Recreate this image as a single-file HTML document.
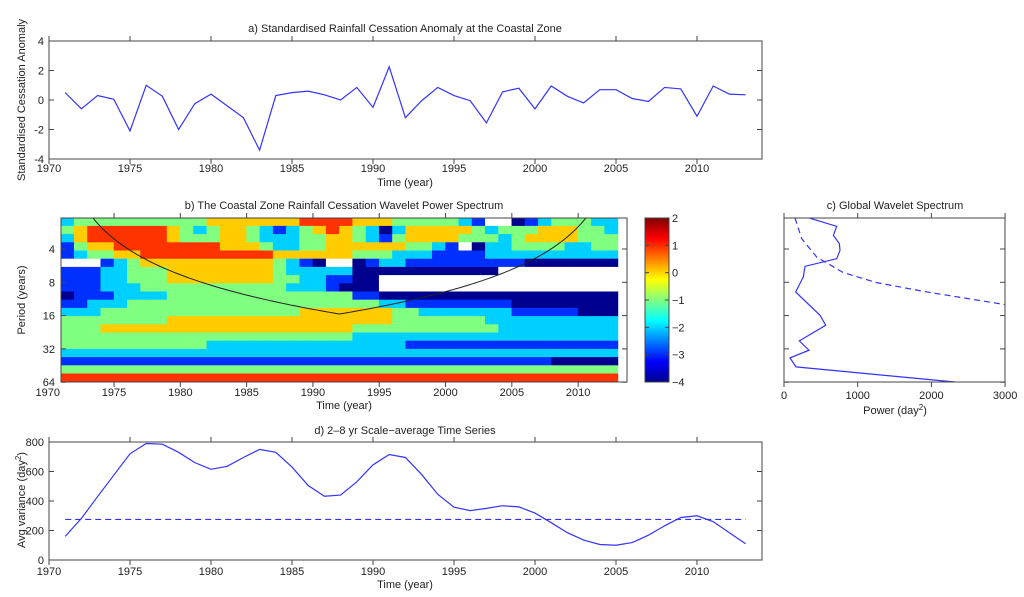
<!DOCTYPE html>
<html><head><meta charset="utf-8"><style>
html,body{margin:0;padding:0;background:#fff;}
svg{display:block;font-family:"Liberation Sans",sans-serif;}
text{fill:#222;font-size:11px;}
</style></head><body>
<svg id="fig" width="1024" height="597" viewBox="0 0 1024 597" xmlns="http://www.w3.org/2000/svg">
<defs>
<linearGradient id="jet" x1="0" y1="1" x2="0" y2="0">
<stop offset="0" stop-color="#00008f"/><stop offset="0.125" stop-color="#0000ff"/>
<stop offset="0.375" stop-color="#00ffff"/><stop offset="0.5" stop-color="#80ff80"/>
<stop offset="0.625" stop-color="#ffff00"/><stop offset="0.875" stop-color="#ff0000"/>
<stop offset="1" stop-color="#800000"/></linearGradient>
<clipPath id="clipB"><rect x="61" y="218" width="566" height="164"/></clipPath>
<clipPath id="clipC"><rect x="784" y="218" width="221" height="164"/></clipPath>
</defs>
<g id="root"></g>
</svg>
<script>
// ---- Panel a data ----
const yearsA = [1971,1972,1973,1974,1975,1976,1977,1978,1979,1980,1981,1982,1983,1984,1985,1986,1987,1988,1989,1990,1991,1992,1993,1994,1995,1996,1997,1998,1999,2000,2001,2002,2003,2004,2005,2006,2007,2008,2009,2010,2011,2012,2013];
const anomaly = [0.5,-0.6,0.3,0.05,-2.1,1.0,0.25,-2.0,-0.25,0.4,-0.4,-1.2,-3.4,0.3,0.5,0.6,0.35,0.0,0.85,-0.5,2.25,-1.2,-0.05,0.85,0.3,-0.05,-1.55,0.55,0.8,-0.6,0.95,0.25,-0.2,0.7,0.7,0.1,-0.1,0.85,0.75,-1.1,0.95,0.4,0.35];
const ticksA = [-4,-2,0,2,4];
const yearTicks = [1970,1975,1980,1985,1990,1995,2000,2005,2010];
// ---- Panel d data ----
const scaleAvg = [160,282,430,575,720,790,785,730,660,615,635,695,750,730,630,505,432,440,530,645,715,695,580,445,358,335,350,368,360,318,253,185,135,105,100,118,168,232,288,300,260,185,110];
const signifD = [275];
const ticksD = [0,200,400,600,800];
// ---- Panel b data (band index per row; rows from period 2 down to 64; cols 1971..2012) ----
const bandColors = ["#ffffff","#00008f","#0030ff","#00d0ff","#80ff80","#ffcc00","#ff3300","#800000"];
const powerRows = [
"344444444445555555666655544444320012344433",
"456666665434554323456543135555543444555443",
"356666665444554333445543245555444345555444",
"245566666666555433445555554432013344443344",
"234455666666666655555544433322223333333333",
"000234555555555543210012332222222221111111",
"222334445555555543333311111111111000000000",
"222334445555555544332211000000000000000000",
"222333444444444443332111000000000000000000",
"122233334444444444444422111111111111111111",
"223334444444444444444444332222222211111111",
"333444444444444444555555544333333322222111",
"444444445555555555555555544444443333333333",
"444555555555555555555544444444444333333333",
"444444444444444444444433333333333333333333",
"444444444443333333333333332222222222222222",
"333333333333333333333333333333333333333333",
"222222222222222222222222222222222222211111",
"444444444444444444444444444444444444444444",
"666666666666666666666666666666666666666666"];
const periodTicks = [4,8,16,32,64];
const cbTicks = [2,1,0,-1,-2,-3,-4];
// ---- Panel c data ----
const gwsLog2 = [1.07,1.32,1.59,1.84,2.04,2.29,2.52,2.84,3.29,3.99,4.29,4.76,5.04,5.27,5.54,6.01];
const gwsPower = [344,715,670,751,760,715,285,262,158,489,566,208,339,81,163,2389];
const sigLog2 = [1.07,1.69,2.24,2.71,3.01,3.29,3.67,4.0];
const sigPower = [149,240,443,805,1258,1937,3000,3800];
const powerTicks = [0,1000,2000,3000];

const NS="http://www.w3.org/2000/svg";
const root=document.getElementById('root');
function mk(tag,attrs,parent){const e=document.createElementNS(NS,tag);for(const k in attrs)e.setAttribute(k,attrs[k]);(parent||root).appendChild(e);return e;}
function txt(s,x,y,anchor,parent,rot){const t=mk('text',{x:x,y:y,'text-anchor':anchor||'middle'},parent);if(rot)t.setAttribute('transform','rotate(-90 '+x+' '+y+')');t.textContent=s;return t;}

const xA=yr=>49+(yr-1970)*16.2;
const yA=v=>100-v*14.75;
const yD=v=>560-v*118/800;
const xB=yr=>61+(yr-1971)*13.26;
const yB=l=>249+(l-2)*33.3;
const xC=p=>784+p*0.0737;

function box(x0,y0,x1,y1,name){const r=mk('rect',{x:x0,y:y0,width:x1-x0,height:y1-y0,fill:'none',stroke:'#444','stroke-width':1});}
function vtick(x,y0,y1){mk('line',{x1:x,x2:x,y1:y0,y2:y0+5,stroke:'#444'});mk('line',{x1:x,x2:x,y1:y1,y2:y1-5,stroke:'#444'});}
function htick(y,x0,x1){mk('line',{x1:x0,x2:x0+5,y1:y,y2:y,stroke:'#444'});mk('line',{x1:x1,x2:x1-5,y1:y,y2:y,stroke:'#444'});}

// ===== Panel a =====
let g=mk('g',{});
let t=txt('a) Standardised Rainfall Cessation Anomaly at the Coastal Zone',405,32,'middle',g);
ticksA.forEach(v=>{htick(yA(v),49,762);const l=txt(String(v),44,yA(v)+4,'end',g);});
yearTicks.forEach(yr=>{vtick(xA(yr),159,41);const l=txt(String(yr),xA(yr),172,'middle',g);});
let pa=mk('polyline',{points:yearsA.map((yr,i)=>xA(yr)+','+yA(anomaly[i])).join(' '),fill:'none',stroke:'#3333ff','stroke-width':1.2},g);

box(49,41,762,159,'panel-a-axes');
t=txt('Time (year)',405,186,'middle',g);
t=txt('Standardised Cessation Anomaly',25,100,'middle',g,true);

// ===== Panel b =====
g=mk('g',{});
const cg=mk('g',{'clip-path':'url(#clipB)'},g);
const rowH=164/powerRows.length;
powerRows.forEach((row,i)=>{for(let k=0;k<row.length;k++){const c=mk('rect',{x:xB(1971+k)-0.3,y:218+i*rowH-0.3,width:13.26+0.6,height:rowH+0.6,fill:bandColors[+row[k]]},cg);

}});
// cone of influence
const coiPts=[];for(let yr=1971;yr<=2013;yr+=0.25){const d=Math.min(yr-1971,2013-yr)+0.5;const p=0.72*d*1.0;coiPts.push(xB(yr)+','+yB(Math.log2(Math.max(p,0.5))));}
let coi=mk('polyline',{points:coiPts.join(' '),fill:'none',stroke:'#222','stroke-width':1},cg);

periodTicks.forEach(p=>{htick(yB(Math.log2(p)),61,627);const l=txt(String(p),55,yB(Math.log2(p))+4,'end',g);});
yearTicks.forEach(yr=>{if(yr>=1971)vtick(xB(yr),382,218);const l=txt(String(yr),xB(yr),396,'middle',g);});
box(61,218,627,382,'panel-b-axes');
t=txt('b) The Coastal Zone Rainfall Cessation Wavelet Power Spectrum',344,209,'middle',g);
t=txt('Time (year)',344,409,'middle',g);
t=txt('Period (years)',25,300,'middle',g,true);
// colorbar
let cb=mk('rect',{x:645,y:218,width:24,height:164,fill:'url(#jet)',stroke:'#444'},g);

cbTicks.forEach(v=>{const y=382-(v+4)*164/6;mk('line',{x1:669,x2:665,y1:y,y2:y,stroke:'#444'},g);mk('line',{x1:645,x2:649,y1:y,y2:y,stroke:'#444'},g);const l=txt(v<0?'\u2212'+(-v):String(v),672,y+4,'start',g);});

// ===== Panel c =====
g=mk('g',{});
const ccg=mk('g',{'clip-path':'url(#clipC)'},g);
let gw=mk('polyline',{points:gwsLog2.map((l,i)=>xC(gwsPower[i])+','+yB(l)).join(' '),fill:'none',stroke:'#3333ff','stroke-width':1.2},ccg);

let sg=mk('polyline',{points:sigLog2.map((l,i)=>xC(sigPower[i])+','+yB(l)).join(' '),fill:'none',stroke:'#3333ff','stroke-width':1.2,'stroke-dasharray':'6,4'},ccg);

periodTicks.forEach(p=>htick(yB(Math.log2(p)),784,1005));
powerTicks.forEach(p=>{vtick(xC(p),382,218);const l=txt(String(p),xC(p),399,'middle',g);});
box(784,218,1005,382,'panel-c-axes');
t=txt('c) Global Wavelet Spectrum',895,209,'middle',g);
t=mk('text',{x:895,y:414,'text-anchor':'middle'},g);t.innerHTML='Power (day<tspan dy="-4" font-size="8">2</tspan><tspan dy="4">)</tspan>';

// ===== Panel d =====
g=mk('g',{});
ticksD.forEach(v=>{htick(yD(v),49,762);const l=txt(String(v),44,yD(v)+4,'end',g);});
yearTicks.forEach(yr=>{vtick(xA(yr),560,442);const l=txt(String(yr),xA(yr),575,'middle',g);});
let sd=mk('line',{x1:xA(1971),x2:xA(2013),y1:yD(signifD[0]),y2:yD(signifD[0]),stroke:'#3333ff','stroke-width':1.2,'stroke-dasharray':'6,4'},g);

let pd=mk('polyline',{points:yearsA.map((yr,i)=>xA(yr)+','+yD(scaleAvg[i])).join(' '),fill:'none',stroke:'#3333ff','stroke-width':1.2},g);

box(49,442,762,560,'panel-d-axes');
t=txt('d) 2\u20138 yr Scale\u2212average Time Series',405,434,'middle',g);
t=txt('Time (year)',405,588,'middle',g);
t=mk('text',{x:25,y:500,'text-anchor':'middle',transform:'rotate(-90 25 500)'},g);t.innerHTML='Avg variance (day<tspan dy="-4" font-size="8">2</tspan><tspan dy="4">)</tspan>';
</script>
</body></html>
